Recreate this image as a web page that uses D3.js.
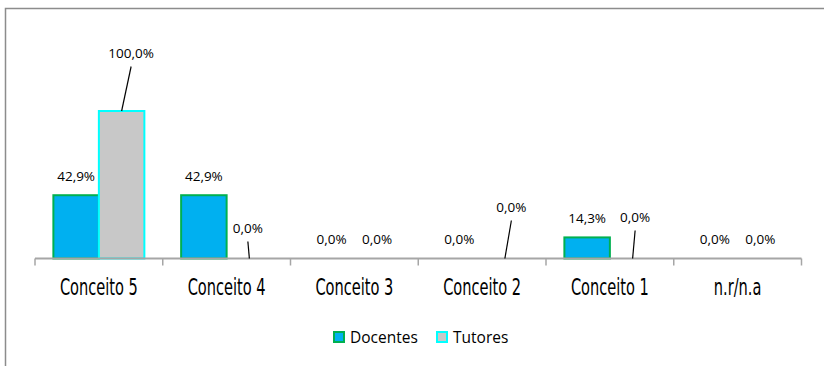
<!DOCTYPE html>
<html>
<head>
<meta charset="utf-8">
<script src="https://cdn.jsdelivr.net/npm/d3@7"></script>
<style>
  html, body { margin: 0; padding: 0; background: #fff; }
  svg { display: block; }
</style>
</head>
<body>
<svg id="chart" width="824" height="366"></svg>
<script>
// Categories and series values (percent)
const categories = ["Conceito 5", "Conceito 4", "Conceito 3", "Conceito 2", "Conceito 1", "n.r/n.a"];
const seriesNames = ["Docentes", "Tutores"];
const docentes = [42.9, 42.9, 0.0, 0.0, 14.3, 0.0];
const tutores = [100.0, 0.0, 0.0, 0.0, 0.0, 0.0];

const seriesValues = [docentes, tutores];
const fills = ["#00B0F0", "#C8C8C8"];
const strokes = ["#00B050", "#00FFFF"];

// Labels moved away from their bar, with a leader line back to it: [dx, dy]
const labelShift = {
  "Tutores|Conceito 5": [9.5, -38.5],
  "Tutores|Conceito 4": [-1.5, -11],
  "Tutores|Conceito 2": [6.5, -32],
  "Tutores|Conceito 1": [2.5, -22]
};

const svg = d3.select("#chart");

// Outer frame
svg.append("path")
  .attr("d", "M5.5,366 L5.5,8.5 L824,8.5")
  .attr("fill", "none")
  .attr("stroke", "#8C8C8C")
  .attr("stroke-width", 1.5);

const x = d3.scaleBand().domain(categories).range([35, 801.5]).paddingInner(0).paddingOuter(0);
const xs = d3.scaleBand().domain(seriesNames).range([0, x.bandwidth()]).paddingInner(0).paddingOuter(0.404);
const y = d3.scaleLinear().domain([0, 100]).range([258.5, 111]);

// Bars
const rows = [];
seriesNames.forEach((s, si) => {
  categories.forEach((c, ci) => {
    rows.push({ series: s, si, cat: c, value: seriesValues[si][ci] });
  });
});

const barG = svg.append("g");
barG.selectAll("rect")
  .data(rows.filter(d => d.value > 0))
  .join("rect")
  .attr("x", d => x(d.cat) + xs(d.series))
  .attr("y", d => y(d.value))
  .attr("width", xs.bandwidth())
  .attr("height", d => y(0) - y(d.value))
  .attr("fill", d => fills[d.si])
  .attr("stroke", d => strokes[d.si])
  .attr("stroke-width", 2);

// Category axis
const axisG = svg.append("g");
axisG.append("line")
  .attr("x1", x.range()[0]).attr("x2", x.range()[1])
  .attr("y1", y(0)).attr("y2", y(0))
  .attr("stroke", "#A6A6A6").attr("stroke-width", 2);
const tickPos = categories.map(c => x(c)).concat([x.range()[1]]);
axisG.selectAll("line.tick")
  .data(tickPos)
  .join("line")
  .attr("class", "tick")
  .attr("x1", d => d).attr("x2", d => d)
  .attr("y1", y(0)).attr("y2", y(0) + 7)
  .attr("stroke", "#A6A6A6").attr("stroke-width", 1.5);

const catLabels = axisG.selectAll("text.cat")
  .data(categories)
  .join("text")
  .attr("class", "cat")
  .attr("x", d => x(d) + x.bandwidth() / 2)
  .attr("y", 295)
  .attr("text-anchor", "middle")
  .attr("font-family", "'DejaVu Sans Condensed', 'DejaVu Sans', sans-serif")
  .attr("font-size", 23.5)
  .attr("fill", "#000")
  .text(d => d);
// Narrow, tall lettering
const condense = 78 / catLabels.nodes()[0].getComputedTextLength();
catLabels.each(function () {
  const w = this.getComputedTextLength();
  d3.select(this).attr("textLength", w * condense).attr("lengthAdjust", "spacingAndGlyphs");
});

// Data labels
const fmt = v => d3.format(".1f")(v).replace(".", ",") + "%";
const labG = svg.append("g");
rows.forEach(d => {
  const cx = x(d.cat) + xs(d.series) + xs.bandwidth() / 2;
  const top = y(d.value);
  const shift = labelShift[d.series + "|" + d.cat];
  const dx = shift ? shift[0] : 0;
  const dy = shift ? shift[1] : 0;
  const lx = cx + dx;
  const ly = top - 14.5 + dy;
  if (shift) {
    labG.append("line")
      .attr("x1", lx).attr("y1", ly + 8.5)
      .attr("x2", cx).attr("y2", top)
      .attr("stroke", "#000").attr("stroke-width", 1.2);
  }
  labG.append("text")
    .attr("x", lx).attr("y", ly)
    .attr("text-anchor", "middle")
    .attr("font-family", "'Open Sans', 'Liberation Sans', sans-serif")
    .attr("font-size", 13.5)
    .attr("fill", "#000")
    .text(fmt(d.value));
});

// Legend
const legendX = [334, 437];
const legG = svg.append("g");
seriesNames.forEach((s, i) => {
  legG.append("rect")
    .attr("x", legendX[i]).attr("y", 332)
    .attr("width", 10).attr("height", 10)
    .attr("fill", fills[i]).attr("stroke", strokes[i]).attr("stroke-width", 2);
  legG.append("text")
    .attr("x", legendX[i] + 16).attr("y", 343)
    .attr("font-family", "'Open Sans', 'Liberation Sans', sans-serif")
    .attr("font-size", 15.5)
    .attr("fill", "#000")
    .text(s);
});
</script>
</body>
</html>
